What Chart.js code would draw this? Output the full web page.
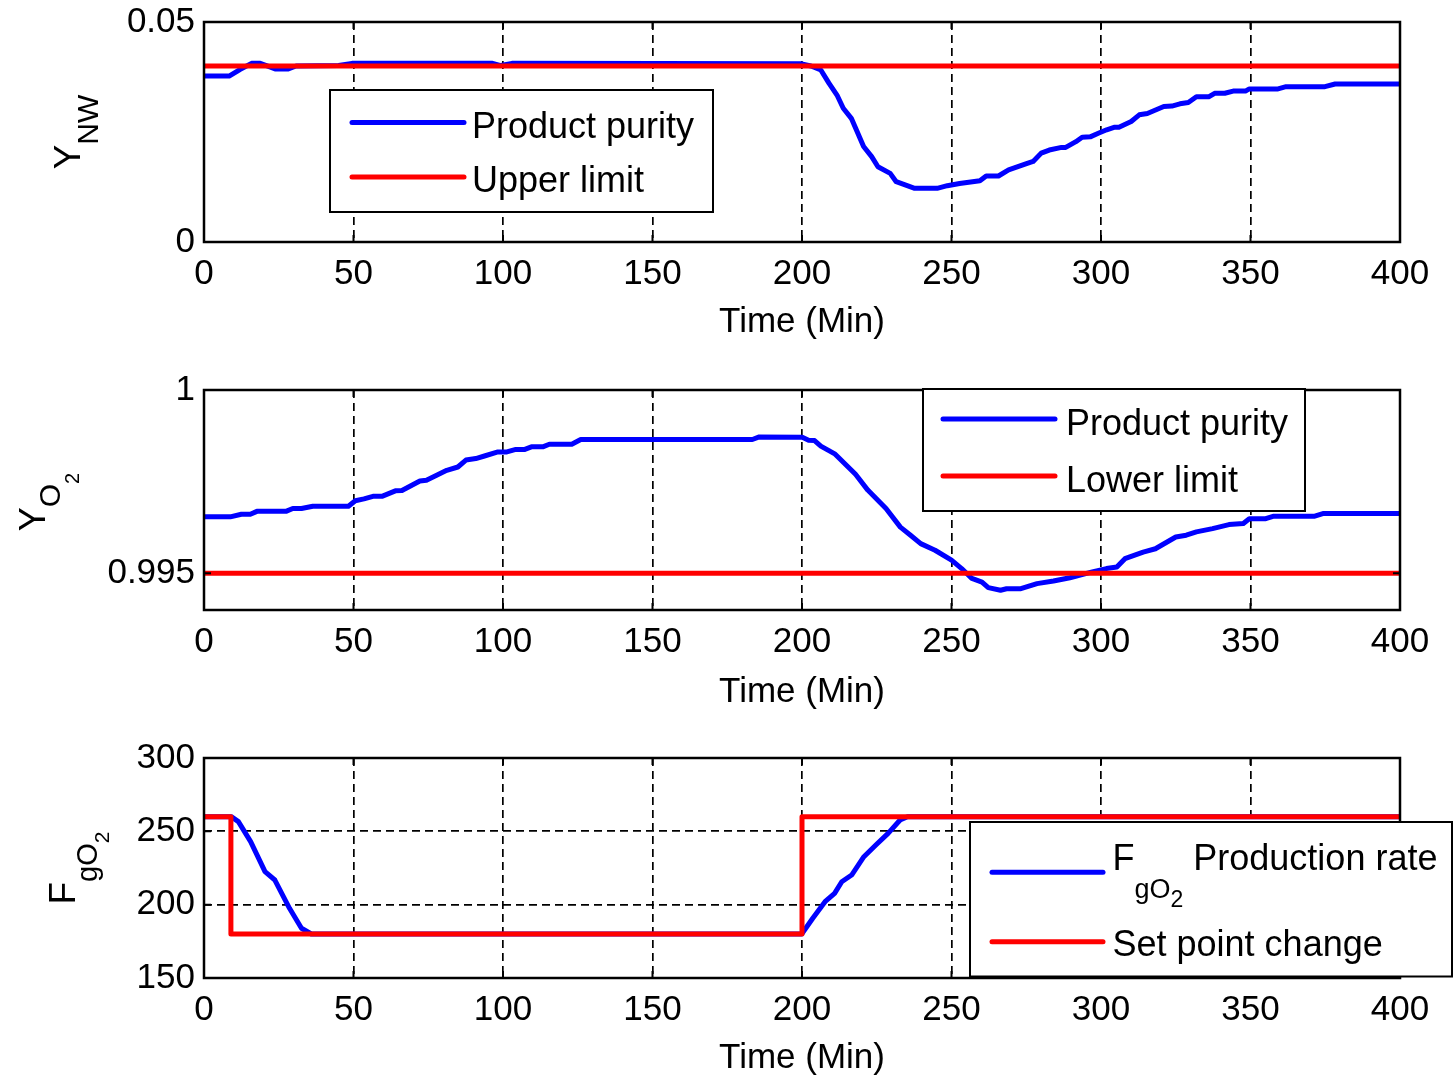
<!DOCTYPE html>
<html><head><meta charset="utf-8">
<script src="https://cdn.jsdelivr.net/npm/chart.js@4/dist/chart.umd.min.js"></script>
<style>
html,body{margin:0;padding:0;background:#fff;}
#wrap{position:relative;width:1454px;height:1079px;overflow:hidden;background:#fff;}
canvas{position:absolute;left:0;}
</style></head><body>
<div id="wrap">
<canvas id="c1" width="1454" height="353" style="top:-8px;width:1454px;height:353px"></canvas>
<canvas id="c2" width="1454" height="355" style="top:360px;width:1454px;height:355px"></canvas>
<canvas id="c3" width="1454" height="351" style="top:728px;width:1454px;height:351px"></canvas>
</div>
<script>
// ---------- DATA ----------
const xTicks = [0, 50, 100, 150, 200, 250, 300, 350, 400];
const xTickLabels = ['0', '50', '100', '150', '200', '250', '300', '350', '400'];
const xTitle = 'Time (Min)';

// Panel 1: Y_NW
const ynwTime = [0, 8.4, 12, 15.9, 18.8, 22, 24, 28, 30.8, 45, 49.5, 96.5, 99.3, 103, 199.5, 203, 206.3, 209, 211.7, 213.8, 216.5, 220.6, 223.3, 225.4, 229.5, 231.5, 237.7, 245.2, 248.6, 252.7, 259.5, 261.6, 265.7, 269.1, 274.6, 277.3, 280, 282.7, 286.8, 288.2, 291.6, 293.7, 296.4, 299.1, 301.9, 304.6, 306, 310.1, 312.8, 315.5, 321, 323.7, 326.4, 329.2, 331.9, 336, 338, 341.4, 344.2, 348.3, 349.6, 359.2, 361.9, 374.9, 378.3, 400];
const ynwValues = [0.0377, 0.0377, 0.0392, 0.0406, 0.0406, 0.0398, 0.0393, 0.0393, 0.0400, 0.0401, 0.0406, 0.0406, 0.0401, 0.0406, 0.0405, 0.0400, 0.0391, 0.0361, 0.0334, 0.0304, 0.0281, 0.0217, 0.0194, 0.0171, 0.0156, 0.0137, 0.0122, 0.0122, 0.0128, 0.0133, 0.0139, 0.0150, 0.0150, 0.0164, 0.0177, 0.0183, 0.0202, 0.0209, 0.0215, 0.0215, 0.0228, 0.0238, 0.0239, 0.0247, 0.0255, 0.0261, 0.0261, 0.0274, 0.0289, 0.0292, 0.0308, 0.0309, 0.0314, 0.0317, 0.0330, 0.0330, 0.0338, 0.0338, 0.0343, 0.0343, 0.0348, 0.0348, 0.0353, 0.0353, 0.0359, 0.0359];
const ynwLimitTime = [0, 400];
const ynwLimitValues = [0.04, 0.04];
const ynwTicks = [0, 0.05];
const ynwTickLabels = ['0', '0.05'];

// Panel 2: Y_O2
const yo2Time = [0, 8.8, 12.5, 15.5, 17.7, 27.4, 29.7, 32.6, 36.4, 48.3, 50.6, 53.5, 56.5, 59.5, 64, 66.2, 72.2, 74.4, 81.2, 84.9, 87.6, 90.9, 93.8, 98.3, 101.3, 104.3, 107.3, 109.5, 113.3, 115.5, 123, 126, 183.4, 185.7, 200.1, 202.2, 204.2, 206.3, 211.1, 217.9, 222, 228.1, 232.9, 236.3, 239.7, 244.5, 250, 253.4, 256.8, 260.2, 262.3, 266.4, 268.4, 273.2, 278.6, 284.1, 289.6, 297.1, 301.8, 305.3, 308, 314.1, 318.2, 325, 328.5, 331.9, 337.3, 342.8, 347.6, 349.6, 355.1, 357.8, 371.5, 374.2, 400];
const yo2Values = [0.99654, 0.99654, 0.99661, 0.99661, 0.99669, 0.99669, 0.99677, 0.99677, 0.99683, 0.99683, 0.99698, 0.99703, 0.99710, 0.99710, 0.99725, 0.99726, 0.99752, 0.99754, 0.99781, 0.99790, 0.99809, 0.99813, 0.99820, 0.99831, 0.99831, 0.99838, 0.99838, 0.99845, 0.99845, 0.99852, 0.99852, 0.99865, 0.99865, 0.99872, 0.99871, 0.99863, 0.99862, 0.99847, 0.99825, 0.99770, 0.99727, 0.99677, 0.99626, 0.99604, 0.99581, 0.99563, 0.99536, 0.99513, 0.99486, 0.99476, 0.99461, 0.99454, 0.99458, 0.99458, 0.99472, 0.99479, 0.99488, 0.99504, 0.99513, 0.99517, 0.99540, 0.99558, 0.99567, 0.99599, 0.99604, 0.99613, 0.99622, 0.99633, 0.99636, 0.99649, 0.99649, 0.99656, 0.99656, 0.99663, 0.99663];
const yo2LimitTime = [0, 400];
const yo2LimitValues = [0.995, 0.995];
const yo2Ticks = [0.995, 1];
const yo2TickLabels = ['0.995', '1'];

// Panel 3: F_gO2
const fgo2Time = [0, 9.1, 11.5, 15.6, 20.4, 23.7, 28.6, 32.6, 35.9, 199.9, 203.6, 207.7, 210.9, 213.3, 216.6, 220.7, 224.7, 228.8, 232.8, 235.3, 400];
const fgo2Values = [260, 260, 256.6, 243, 222.5, 216.8, 197.5, 183.9, 180, 180, 190.7, 202, 207.7, 215.6, 220.2, 232.7, 240.7, 248.6, 257.7, 260, 260];
const setPointTime = [0, 9, 9, 200, 200, 400];
const setPointValues = [260, 260, 180, 180, 260, 260];
const fgo2Ticks = [150, 200, 250, 300];
const fgo2TickLabels = ['150', '200', '250', '300'];

// ---------- RENDERING ----------
const FONT = '"Liberation Sans", Arial, Helvetica, sans-serif';
Chart.defaults.font.family = FONT;
Chart.defaults.color = '#000';

function pts(xs, ys) { return xs.map((x, i) => ({x: x, y: ys[i]})); }

function richText(ctx, segs, x, y) {
  let cx = x;
  segs.forEach(s => {
    ctx.font = s.s + 'px ' + FONT;
    ctx.fillText(s.t, cx, y + s.d);
    cx += ctx.measureText(s.t).width;
  });
}
function richWidth(ctx, segs) {
  let w = 0;
  segs.forEach(s => { ctx.font = s.s + 'px ' + FONT; w += ctx.measureText(s.t).width; });
  return w;
}

const deco = {
  id: 'deco',
  afterDraw(chart, args, o) {
    const ctx = chart.ctx, a = chart.chartArea;
    const xs = chart.scales.x, ys = chart.scales.y;
    ctx.save();
    ctx.setLineDash([]);
    ctx.strokeStyle = '#000';
    ctx.lineWidth = 2;
    ctx.beginPath();
    xs.ticks.forEach(t => {
      const p = xs.getPixelForValue(t.value);
      ctx.moveTo(p, a.bottom); ctx.lineTo(p, a.bottom - 7);
      ctx.moveTo(p, a.top); ctx.lineTo(p, a.top + 7);
    });
    ys.ticks.forEach(t => {
      const p = ys.getPixelForValue(t.value);
      ctx.moveTo(a.left, p); ctx.lineTo(a.left + 7, p);
      ctx.moveTo(a.right, p); ctx.lineTo(a.right - 7, p);
    });
    ctx.stroke();
    ctx.lineWidth = 2.5;
    ctx.strokeRect(a.left, a.top, a.right - a.left, a.bottom - a.top);

    // y title with subscripts (rotated)
    ctx.fillStyle = '#000';
    ctx.textBaseline = 'alphabetic';
    ctx.textAlign = 'left';
    const yt = o.yTitle;
    const w = richWidth(ctx, yt.segs);
    ctx.save();
    ctx.translate(yt.x, (a.top + a.bottom) / 2 + yt.dy);
    ctx.rotate(-Math.PI / 2);
    richText(ctx, yt.segs, -w / 2, 0);
    ctx.restore();

    // legend box
    const L = o.legend;
    ctx.fillStyle = '#fff';
    ctx.fillRect(L.box[0], L.box[1], L.box[2] - L.box[0], L.box[3] - L.box[1]);
    ctx.lineWidth = 2;
    ctx.strokeStyle = '#000';
    ctx.strokeRect(L.box[0], L.box[1], L.box[2] - L.box[0], L.box[3] - L.box[1]);
    L.items.forEach(it => {
      const ds = chart.data.datasets[it.ds];
      ctx.strokeStyle = ds.borderColor;
      ctx.lineWidth = 5;
      ctx.lineCap = 'round';
      ctx.beginPath();
      ctx.moveTo(L.lineX[0], it.ly); ctx.lineTo(L.lineX[1], it.ly);
      ctx.stroke();
      ctx.fillStyle = '#000';
      richText(ctx, it.segs || [{t: ds.label, s: 36, d: 0}], L.textX, it.by);
    });
    ctx.restore();
  }
};

function makeChart(id, cfg) {
  const canvas = document.getElementById(id);
  const H = canvas.height;
  return new Chart(canvas, {
    type: 'line',
    data: {datasets: cfg.datasets},
    options: {
      responsive: false,
      animation: false,
      devicePixelRatio: 1,
      layout: {padding: {left: 0, right: 54, top: cfg.areaTop, bottom: 0}},
      plugins: {legend: {display: false}, tooltip: {enabled: false}, deco: cfg.deco},
      elements: {point: {radius: 0}, line: {tension: 0, borderWidth: 5, borderJoinStyle: 'round', borderCapStyle: 'round'}},
      scales: {
        x: {
          type: 'linear', min: 0, max: 400,
          afterBuildTicks: s => { s.ticks = xTicks.map(v => ({value: v})); },
          afterFit: s => { s.height = H - cfg.areaBottom; },
          ticks: {padding: 11, font: {size: 35}, color: '#000', maxRotation: 0, autoSkip: false,
                  callback: v => xTickLabels[xTicks.indexOf(v)]},
          grid: {display: true, drawTicks: false, color: '#000', lineWidth: 1.7},
          border: {display: false, dash: [8, 5]},
          title: {display: true, text: xTitle, font: {size: 35}, color: '#000', padding: {top: 0, bottom: cfg.titlePad}}
        },
        y: {
          type: 'linear', min: cfg.yMin, max: cfg.yMax,
          afterBuildTicks: s => { s.ticks = cfg.yTicks.map(v => ({value: v})); },
          afterFit: s => { s.width = 204; },
          ticks: {padding: 9, font: {size: 35}, color: '#000', autoSkip: false,
                  callback: v => cfg.yTickLabels[cfg.yTicks.indexOf(v)]},
          grid: {display: cfg.yGrid, drawTicks: false, color: '#000', lineWidth: 1.7},
          border: {display: false, dash: [8, 5]}
        }
      }
    },
    plugins: [deco]
  });
}

makeChart('c1', {
  areaTop: 30, areaBottom: 250, titlePad: 2,
  yMin: 0, yMax: 0.05, yTicks: ynwTicks, yTickLabels: ynwTickLabels, yGrid: false,
  datasets: [
    {label: 'Product purity', data: pts(ynwTime, ynwValues), borderColor: '#0000ff', order: 1},
    {label: 'Upper limit', data: pts(ynwLimitTime, ynwLimitValues), borderColor: '#ff0000', order: 0}
  ],
  deco: {
    yTitle: {x: 80, dy: 0, segs: [{t: 'Y', s: 37, d: 0}, {t: 'NW', s: 30, d: 18}]},
    legend: {box: [330, 98, 713, 220], lineX: [352, 464], textX: 472,
             items: [{ds: 0, ly: 130.5, by: 146}, {ds: 1, ly: 185, by: 200}]}
  }
});

makeChart('c2', {
  areaTop: 30, areaBottom: 250, titlePad: 2,
  yMin: 0.994, yMax: 1, yTicks: yo2Ticks, yTickLabels: yo2TickLabels, yGrid: false,
  datasets: [
    {label: 'Product purity', data: pts(yo2Time, yo2Values), borderColor: '#0000ff', order: 1},
    {label: 'Lower limit', data: pts(yo2LimitTime, yo2LimitValues), borderColor: '#ff0000', order: 0}
  ],
  deco: {
    yTitle: {x: 45, dy: 2, segs: [{t: 'Y', s: 36, d: 0}, {t: 'O', s: 30, d: 15}, {t: '2', s: 20, d: 34}]},
    legend: {box: [923, 29, 1305, 151], lineX: [943, 1055], textX: 1066,
             items: [{ds: 0, ly: 59, by: 74.5}, {ds: 1, ly: 116, by: 131.5}]}
  }
});

makeChart('c3', {
  areaTop: 30, areaBottom: 250, titlePad: 0,
  yMin: 150, yMax: 300, yTicks: fgo2Ticks, yTickLabels: fgo2TickLabels, yGrid: true,
  datasets: [
    {label: 'FgO2 Production rate', data: pts(fgo2Time, fgo2Values), borderColor: '#0000ff', order: 1},
    {label: 'Set point change', data: pts(setPointTime, setPointValues), borderColor: '#ff0000', order: 0}
  ],
  deco: {
    yTitle: {x: 75, dy: 0, segs: [{t: 'F', s: 37, d: 0}, {t: 'gO', s: 29, d: 22}, {t: '2', s: 21, d: 34}]},
    legend: {box: [970, 94, 1452, 248.5], lineX: [992, 1103], textX: 1112.5,
             items: [{ds: 0, ly: 144.3, by: 142, segs: [{t: 'F', s: 36, d: 0}, {t: 'gO', s: 27, d: 28}, {t: '2', s: 23, d: 37}, {t: ' Production rate', s: 36, d: 0}]},
                     {ds: 1, ly: 213.7, by: 228}]}
  }
});
</script>
</body></html>
